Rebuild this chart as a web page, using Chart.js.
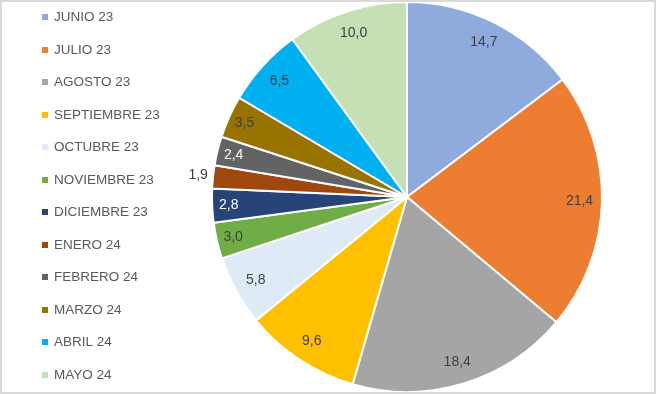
<!DOCTYPE html>
<html>
<head>
<meta charset="utf-8">
<script src="https://cdn.jsdelivr.net/npm/chart.js@4/dist/chart.umd.min.js"></script>
<style>
html,body{margin:0;padding:0;background:#fff;}
#wrap{position:relative;width:656px;height:394px;}
</style>
</head>
<body>
<div id="wrap"><canvas id="c" width="656" height="394"></canvas></div>
<script>
const categories = ["JUNIO 23","JULIO 23","AGOSTO 23","SEPTIEMBRE 23","OCTUBRE 23","NOVIEMBRE 23","DICIEMBRE 23","ENERO 24","FEBRERO 24","MARZO 24","ABRIL 24","MAYO 24"];
const values = [14.7,21.4,18.4,9.6,5.8,3.0,2.8,1.9,2.4,3.5,6.5,10.0];
const colors = ["#8FAADC","#ED7D31","#A5A5A5","#FFC000","#DEEBF7","#70AD47","#264478","#9E480E","#636363","#997300","#00B0F0","#C5E0B4"];

const fmt = v => v.toFixed(1).replace('.', ',');

function luminance(hex) {
  const n = parseInt(hex.slice(1), 16);
  const ch = [(n >> 16) & 255, (n >> 8) & 255, n & 255].map(c => {
    c /= 255;
    return c <= 0.03928 ? c / 12.92 : Math.pow((c + 0.055) / 1.055, 2.4);
  });
  return 0.2126 * ch[0] + 0.7152 * ch[1] + 0.0722 * ch[2];
}

const labelPlugin = {
  id: 'sliceLabels',
  afterDatasetsDraw(chart) {
    const ctx = chart.ctx;
    const meta = chart.getDatasetMeta(0);
    const ds = chart.data.datasets[0];
    ctx.save();
    ctx.font = '14px "Liberation Sans", Arial, sans-serif';
    ctx.textAlign = 'center';
    ctx.textBaseline = 'middle';
    meta.data.forEach((arc, i) => {
      const p = arc.getProps(['x','y','startAngle','endAngle','outerRadius'], true);
      const mid = (p.startAngle + p.endAngle) / 2;
      const v = ds.data[i];
      let r, color;
      if (v < 2) {
        r = p.outerRadius + 15;
        color = '#404040';
      } else {
        r = p.outerRadius * (v < 4 ? 0.915 : 0.885);
        color = luminance(ds.backgroundColor[i]) < 0.15 ? '#FFFFFF' : '#404040';
      }
      ctx.fillStyle = color;
      ctx.fillText(fmt(v), p.x + Math.cos(mid) * r, p.y + Math.sin(mid) * r);
    });
    ctx.restore();
  }
};

const legendPlugin = {
  id: 'sideLegend',
  afterDraw(chart) {
    const ctx = chart.ctx;
    const ds = chart.data.datasets[0];
    ctx.save();
    ctx.font = '13.5px "Liberation Sans", Arial, sans-serif';
    ctx.textBaseline = 'middle';
    ctx.textAlign = 'left';
    chart.data.labels.forEach((lab, i) => {
      const y = 17 + i * 32.5;
      ctx.fillStyle = ds.backgroundColor[i];
      ctx.fillRect(42, Math.round(y) - 3, 6, 6);
      ctx.fillStyle = '#595959';
      ctx.fillText(lab, 54, y + 0.5);
    });
    ctx.strokeStyle = '#D9D9D9';
    ctx.lineWidth = 2;
    ctx.strokeRect(1, 1, 654, 392);
    ctx.restore();
  }
};

new Chart(document.getElementById('c'), {
  type: 'pie',
  data: {
    labels: categories,
    datasets: [{
      data: values,
      backgroundColor: colors,
      borderColor: '#FFFFFF',
      borderWidth: 2
    }]
  },
  options: {
    responsive: false,
    animation: false,
    radius: 195,
    layout: { padding: { left: 212, right: 54, top: 2, bottom: 2 } },
    plugins: {
      legend: { display: false },
      tooltip: { enabled: false }
    }
  },
  plugins: [labelPlugin, legendPlugin]
});
</script>
</body>
</html>
